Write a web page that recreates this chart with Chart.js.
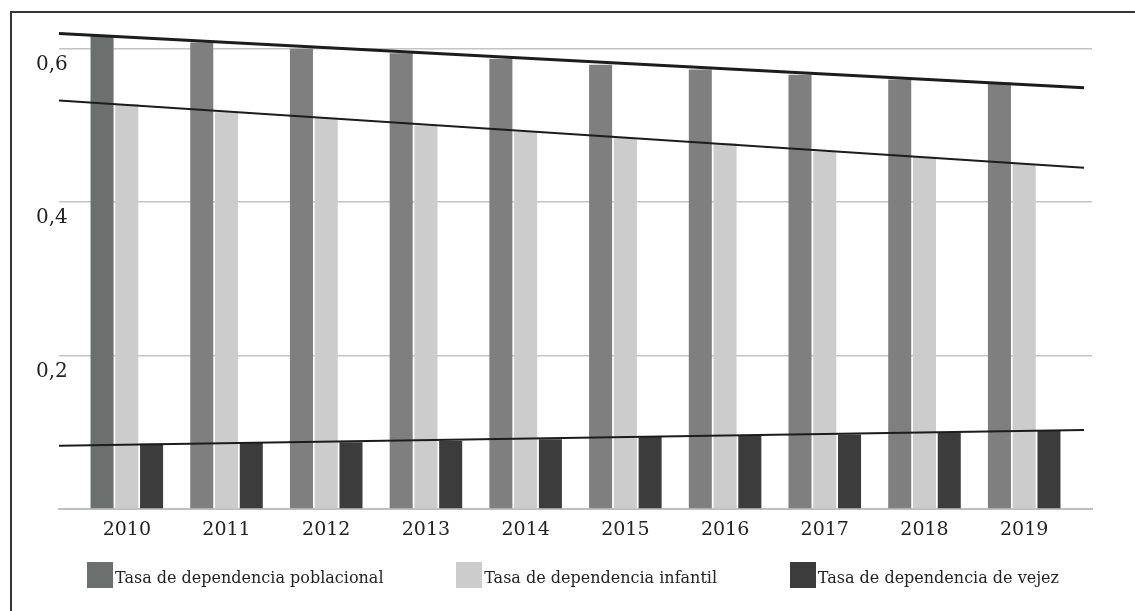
<!DOCTYPE html>
<html>
<head>
<meta charset="utf-8">
<script src="https://cdn.jsdelivr.net/npm/chart.js@4.4.1/dist/chart.umd.min.js"></script>
<style>
    html, body { margin: 0; padding: 0; background: #fff; overflow: hidden; }
    #wrap  { position: relative; width: 1135px; height: 611px; overflow: hidden; }
    #frame {
        position: absolute; left: 10px; top: 11px; width: 1200px; height: 700px;
        border-left: 2px solid #353535; border-top: 2px solid #353535;
        pointer-events: none;
    }
    #legend {
        position: absolute; left: 87px; width: 972px; top: 562px;
        display: flex; justify-content: space-between;
        font-family: "DejaVu Serif", serif; font-size: 16px; color: #222;
    }
    .item   { display: flex; align-items: center; height: 26px; }
    .swatch { width: 26px; height: 26px; margin-right: 2px; }
    .label  { position: relative; top: 2px; white-space: nowrap; }
</style>
</head>
<body>
<div id="wrap">
    <canvas id="chart" width="1135" height="611"></canvas>
    <div id="frame"></div>
    <div id="legend"></div>
</div>
<script>
// data
const YEARS       = ["2010", "2011", "2012", "2013", "2014", "2015", "2016", "2017", "2018", "2019"];
const POBLACIONAL = [0.618, 0.608, 0.600, 0.594, 0.587, 0.579, 0.573, 0.566, 0.560, 0.556];
const INFANTIL    = [0.528, 0.517, 0.510, 0.500, 0.492, 0.484, 0.477, 0.466, 0.459, 0.450];
const VEJEZ       = [0.085, 0.086, 0.087, 0.089, 0.091, 0.094, 0.096, 0.097, 0.100, 0.103];
const SERIES      = ["Tasa de dependencia poblacional", "Tasa de dependencia infantil", "Tasa de dependencia de vejez"];
const Y_TICKS     = [0.2, 0.4, 0.6];

const X_MIN = -0.68, X_MAX = 9.68, TREND_END = 9.6;
const FONT  = "DejaVu Serif";

// least squares line over the year index, like the spreadsheet trend line
function trend(values) {
    const n  = values.length;
    const mx = (n - 1) / 2;
    const my = values.reduce((a, b) => a + b, 0) / n;
    let sxy = 0, sxx = 0;
    values.forEach((v, i) => { sxy += (i - mx) * (v - my); sxx += (i - mx) ** 2; });
    const b = sxy / sxx, a = my - b * mx;
    return [{ x: X_MIN, y: a + b * X_MIN }, { x: TREND_END, y: a + b * TREND_END }];
}

const pts = arr => arr.map((v, i) => ({ x: i, y: v }));

const bar = (label, data, color) => ({
    type: "bar", label, data: pts(data), backgroundColor: color,
    categoryPercentage: 0.745, barPercentage: 0.93, order: 1
});

const line = (data, width) => ({
    type: "line", label: "", data: trend(data), borderColor: "#1c1c1c",
    borderWidth: width, pointRadius: 0, fill: false, order: 0, isTrend: true
});

const htmlLegend = {
    id: "htmlLegend",
    afterUpdate(chart) {
        const box = document.getElementById("legend");
        box.innerHTML = "";
        chart.data.datasets.forEach(ds => {
            if (ds.isTrend) return;
            const color = Array.isArray(ds.backgroundColor) ? ds.backgroundColor[0] : ds.backgroundColor;
            const item  = document.createElement("div");
            item.className = "item";
            item.innerHTML = `<span class="swatch" style="background:${color}"></span><span class="label">${ds.label}</span>`;
            box.appendChild(item);
        });
    }
};

new Chart(document.getElementById("chart"), {
    data: {
        datasets: [
            bar(SERIES[0], POBLACIONAL, POBLACIONAL.map((_, i) => (i === 0 ? "#6b706f" : "#7f7f7f"))),
            bar(SERIES[1], INFANTIL, "#cccccc"),
            bar(SERIES[2], VEJEZ, "#3c3c3c"),
            line(POBLACIONAL, 3),
            line(INFANTIL, 2),
            line(VEJEZ, 2)
        ]
    },
    options: {
        responsive: false,
        animation : false,
        events    : [],
        layout    : { padding: { top: 18, right: 43, bottom: 62, left: 0 } },
        plugins   : { legend: { display: false }, tooltip: { enabled: false } },
        scales: {
            x: {
                type: "linear", min: X_MIN, max: X_MAX, offset: false,
                grid  : { display: false },
                border: { color: "#bfbfbf", width: 2 },
                ticks : {
                    stepSize: 1, includeBounds: false, padding: 2, color: "#222",
                    font: { family: FONT, size: 19 },
                    callback: v => YEARS[v] ?? ""
                },
                afterBuildTicks: s => { s.ticks = s.ticks.filter(t => Number.isInteger(t.value) && YEARS[t.value]); },
                afterFit: s => { s.height = 40; }
            },
            y: {
                min: 0, max: 0.64,
                border: { display: false },
                grid  : {
                    drawTicks: false, lineWidth: 1.5,
                    color: c => (c.tick && c.tick.value === 0 ? "rgba(0,0,0,0)" : "#c4c4c4")
                },
                ticks : {
                    stepSize: 0.2, includeBounds: false, mirror: true, padding: -23, labelOffset: 16,
                    color: "#222", font: { family: FONT, size: 20 },
                    callback: v => (v === 0 ? "" : v.toFixed(1).replace(".", ","))
                },
                afterBuildTicks: s => {
                    s.ticks = s.ticks.filter(t => t.value === 0 || Y_TICKS.some(v => Math.abs(v - t.value) < 1e-6));
                },
                afterFit: s => { s.width = 59; }
            }
        }
    },
    plugins: [htmlLegend]
});
</script>
</body>
</html>
